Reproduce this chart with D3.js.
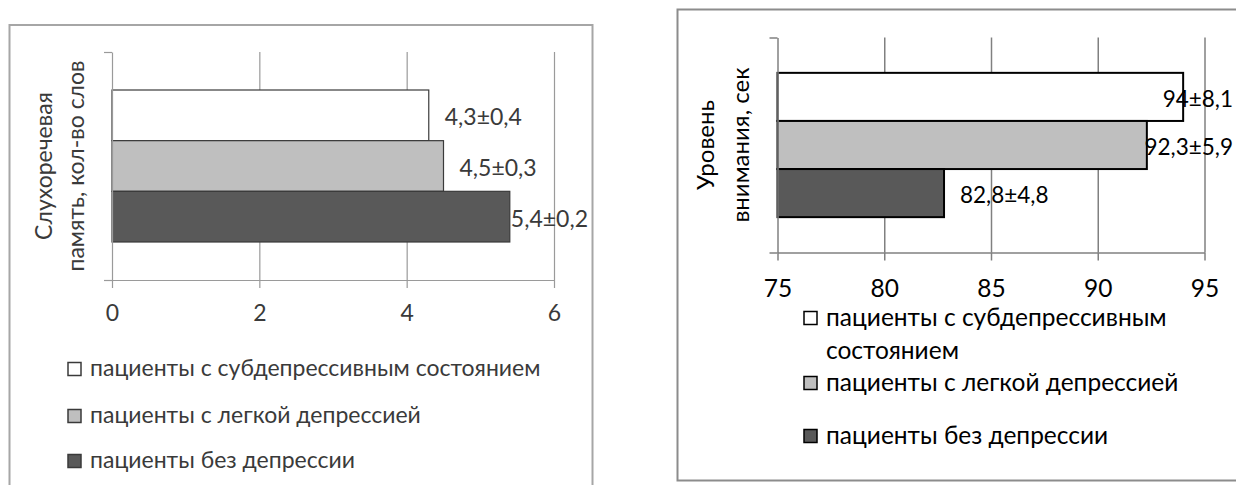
<!DOCTYPE html>
<html><head><meta charset="utf-8">
<script src="https://cdn.jsdelivr.net/npm/d3@7"></script>
<style>
html,body{margin:0;padding:0;background:#fff;}
svg{display:block;}
</style></head>
<body>
<svg id="chart" width="1236" height="485"></svg>
<script>
// ---------- DATA ----------
const seriesNames = [
  "пациенты с субдепрессивным состоянием",
  "пациенты с легкой депрессией",
  "пациенты без депрессии"
];
const seriesColors = ["#ffffff", "#bfbfbf", "#595959"];

const memoryTitle = ["Слухоречевая", "память, кол-во слов"];
const memoryValues = [4.3, 4.5, 5.4];
const memoryLabels = ["4,3±0,4", "4,5±0,3", "5,4±0,2"];
const memoryTicks = [0, 2, 4, 6];

const attentionTitle = ["Уровень", "внимания, сек"];
const attentionValues = [94, 92.3, 82.8];
const attentionLabels = ["94±8,1", "92,3±5,9", "82,8±4,8"];
const attentionTicks = [75, 80, 85, 90, 95];

// ---------- DRAW ----------
const svg = d3.select("#chart");
const FONT = "Lato, 'Open Sans', sans-serif";

function drawChart(cfg) {
  const g = svg.append("g");
  // outer frame
  g.append("rect")
    .attr("x", cfg.frame[0]).attr("y", cfg.frame[1])
    .attr("width", cfg.frame[2]).attr("height", cfg.frame[3])
    .attr("fill", "none").attr("stroke", cfg.frameColor).attr("stroke-width", 2);

  const x = d3.scaleLinear().domain(cfg.domain).range([cfg.left, cfg.right]);
  const cat = d3.scaleBand().domain(["c"]).range([cfg.top, cfg.bottom]).paddingOuter(cfg.catPad).paddingInner(0);
  const yb = d3.scaleBand().domain(seriesNames).range([cat("c"), cat("c") + cat.bandwidth()]);

  // gridlines
  g.append("g").attr("transform", `translate(0,${cfg.bottom})`)
    .call(d3.axisBottom(x).tickValues(cfg.ticks.slice(1)).tickSize(-(cfg.bottom - cfg.top)).tickFormat(""))
    .call(s => s.select(".domain").remove())
    .selectAll("line").attr("stroke", cfg.gridColor).attr("stroke-width", cfg.gridWidth);

  // bars
  g.selectAll("rect.bar").data(cfg.values).enter().append("rect")
    .attr("class", "bar")
    .attr("x", x(cfg.domain[0]))
    .attr("y", (d, i) => yb(seriesNames[i]))
    .attr("width", d => x(d) - x(cfg.domain[0]))
    .attr("height", yb.bandwidth())
    .attr("fill", (d, i) => seriesColors[i])
    .attr("stroke", cfg.barStroke).attr("stroke-width", cfg.barStrokeWidth);

  // x axis
  const xa = g.append("g").attr("transform", `translate(0,${cfg.bottom})`)
    .call(d3.axisBottom(x).tickValues(cfg.ticks).tickSize(8).tickSizeOuter(0).tickFormat(d3.format("d")));
  xa.select(".domain").attr("stroke", cfg.gridColor).attr("stroke-width", cfg.gridWidth);
  xa.selectAll("line").attr("stroke", cfg.gridColor).attr("stroke-width", cfg.gridWidth);
  xa.selectAll("text").attr("y", cfg.tickLabelOffset).attr("dy", "0.35em")
    .attr("fill", cfg.textColor).style("font-family", FONT).style("font-size", cfg.tickFont + "px");

  // category axis (vertical) with outer ticks at top and bottom
  const ya = g.append("g").attr("transform", `translate(${cfg.left},0)`)
    .call(d3.axisLeft(d3.scaleLinear().domain([0, 1]).range([cfg.bottom, cfg.top])).tickValues([0, 1]).tickSize(8).tickSizeOuter(0).tickFormat(""));
  ya.select(".domain").attr("stroke", cfg.gridColor).attr("stroke-width", cfg.gridWidth);
  ya.selectAll("line").attr("stroke", cfg.gridColor).attr("stroke-width", cfg.gridWidth);

  // data labels
  const labs = g.selectAll("text.lab").data(cfg.values).enter().append("text")
    .attr("class", "lab")
    .attr("y", (d, i) => yb(seriesNames[i]) + yb.bandwidth() / 2 + 2)
    .attr("dy", "0.35em")
    .attr("fill", cfg.textColor)
    .style("font-family", FONT).style("font-size", cfg.labelFont + "px")
    .text((d, i) => cfg.labels[i]);
  labs.attr("x", function (d) {
    const w = this.getComputedTextLength();
    return Math.min(x(d) + 16, cfg.labelLimit - w);
  });

  // y title (rotated, two lines)
  const cy = (cfg.top + cfg.bottom) / 2;
  cfg.title.forEach((t, i) => {
    g.append("text")
      .attr("transform", `translate(${cfg.titleX[i]},${cy}) rotate(-90)`)
      .attr("text-anchor", "middle").attr("dy", "0.35em")
      .attr("fill", cfg.textColor)
      .style("font-family", FONT).style("font-size", cfg.titleFont + "px")
      .text(t);
  });

  // legend
  const lg = g.append("g");
  let lineIdx = 0;
  seriesNames.forEach((name, i) => {
    const words = name.split(" ");
    const lines = [];
    let cur = "";
    const probe = lg.append("text").style("font-family", FONT).style("font-size", cfg.legendFont + "px");
    words.forEach(w => {
      const test = cur ? cur + " " + w : w;
      probe.text(test);
      if (probe.node().getComputedTextLength() > cfg.legendMaxW && cur) { lines.push(cur); cur = w; }
      else cur = test;
    });
    lines.push(cur);
    probe.remove();
    const yc = cfg.legendRows[lineIdx];
    lg.append("rect")
      .attr("x", cfg.legendX).attr("y", yc - cfg.legendBox / 2 + 1)
      .attr("width", cfg.legendBox).attr("height", cfg.legendBox)
      .attr("fill", seriesColors[i]).attr("stroke", cfg.legendStroke).attr("stroke-width", 1.5);
    lines.forEach((ln) => {
      lg.append("text")
        .attr("x", cfg.legendX + cfg.legendBox + 9)
        .attr("y", cfg.legendRows[lineIdx]).attr("dy", "0.35em")
        .attr("fill", cfg.textColor)
        .style("font-family", FONT).style("font-size", cfg.legendFont + "px")
        .text(ln);
      lineIdx++;
    });
  });
}

drawChart({
  frame: [9.5, 25, 583, 480],
  frameColor: "#a6a6a6",
  domain: [0, 6], ticks: memoryTicks,
  left: 112, right: 554, top: 52, bottom: 280, catPad: 0.25,
  values: memoryValues, labels: memoryLabels, labelLimit: 588,
  gridColor: "#9a9a9a", gridWidth: 1.2,
  barStroke: "#3a3a3a", barStrokeWidth: 1.2,
  textColor: "#3a3a3a",
  tickFont: 23, tickLabelOffset: 33, labelFont: 23, titleFont: 23,
  title: memoryTitle, titleX: [44, 76],
  legendX: 68, legendBox: 13, legendFont: 23, legendMaxW: 600,
  legendRows: [368, 415, 460], legendStroke: "#3a3a3a"
});

drawChart({
  frame: [677.5, 9.5, 600, 471],
  frameColor: "#8c8c8c",
  domain: [75, 95], ticks: attentionTicks,
  left: 777.5, right: 1204.5, top: 37.5, bottom: 252.5, catPad: 0.245,
  values: attentionValues, labels: attentionLabels, labelLimit: 1233,
  gridColor: "#808080", gridWidth: 1.5,
  barStroke: "#000", barStrokeWidth: 2,
  textColor: "#000",
  tickFont: 24.5, tickLabelOffset: 36, labelFont: 22.5, titleFont: 24,
  title: attentionTitle, titleX: [706, 741],
  legendX: 804, legendBox: 13, legendFont: 24.5, legendMaxW: 400,
  legendRows: [317, 350, 382, 435], legendStroke: "#000"
});
</script>
</body></html>
